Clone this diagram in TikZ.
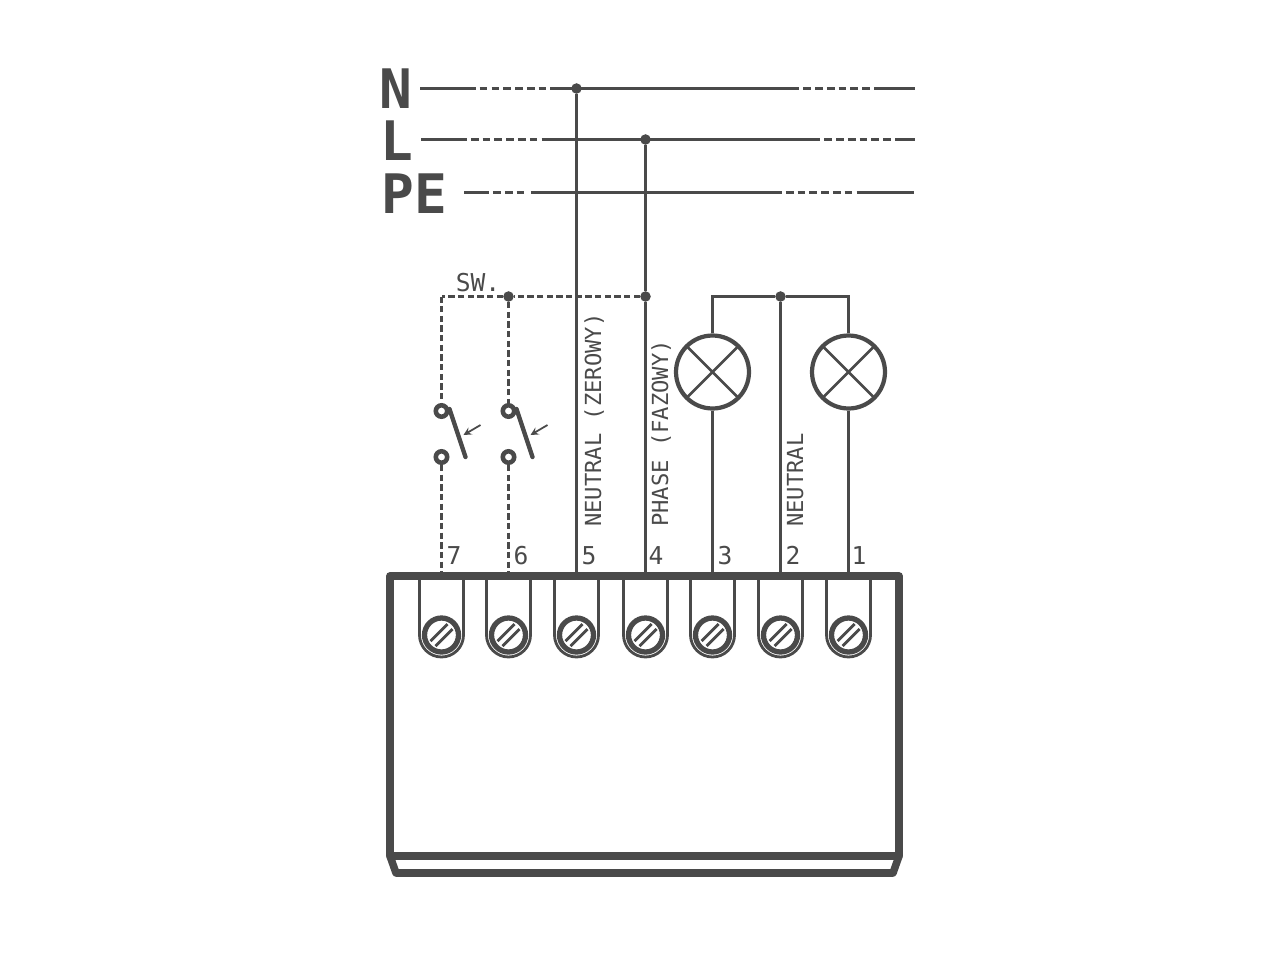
\documentclass[tikz,border=0pt]{standalone}
\usepackage{fontspec}
\setmonofont{DejaVu Sans Mono}
\usetikzlibrary{arrows}
\usetikzlibrary{calc}
\definecolor{ink}{HTML}{4A4A4A}
\tikzset{
	wire/.style={draw=ink, line width=1.8pt},
	swwire/.style={draw=ink, line width=1.8pt, dash pattern=on 3.6pt off 1.9pt},
	boxline/.style={draw=ink, line width=4.3pt, line join=round},
	mainsline/.style n args={3}{draw=ink, line width=1.8pt, dash pattern=on #1 off 2.3pt on 4.4pt off 2.3pt on 4.4pt off 2.3pt on 4.4pt off 2.3pt on 4.4pt off 2.3pt on 4.4pt off 2.3pt on 4.4pt off 2.3pt on #2 off 2.3pt on 4.4pt off 2.3pt on 4.4pt off 2.3pt on 4.4pt off 2.3pt on 4.4pt off 2.3pt on 4.4pt off 2.3pt on 4.4pt off 2.3pt on #3 off 20pt},
	peline/.style n args={3}{draw=ink, line width=1.8pt, dash pattern=on #1 off 2.3pt on 4.4pt off 2.3pt on 4.4pt off 2.3pt on 4.4pt off 3.7pt on #2 off 2.3pt on 4.4pt off 2.3pt on 4.4pt off 2.3pt on 4.4pt off 2.3pt on 4.4pt off 2.3pt on 4.4pt off 2.3pt on 4.4pt off 2.3pt on #3 off 20pt},
	dot/.style={circle, fill=ink, inner sep=0pt, minimum size=6pt},
	contact/.style={circle, draw=ink, fill=white, line width=2.6pt, inner sep=0pt, minimum size=6.5pt},
	lamp/.style={circle, draw=ink, line width=2.4pt, inner sep=0pt, minimum size=1.46cm,
		path picture={\draw[ink, line width=1.5pt] (path picture bounding box.north west) -- (path picture bounding box.south east) (path picture bounding box.south west) -- (path picture bounding box.north east);}},
	bigtext/.style={text=ink, font=\ttfamily\bfseries\fontsize{31}{31}\selectfont, inner sep=0pt},
	smalltext/.style={text=ink, font=\ttfamily\fontsize{12.6}{12.6}\selectfont, inner sep=0pt, text height=9.2pt, text depth=0pt},
	numtext/.style={smalltext, font=\ttfamily\fontsize{14}{14}\selectfont, text height=10.5pt},
	sidetext/.style={smalltext, rotate=90, anchor=west},
}
\begin{document}
\begin{tikzpicture}[x=0.02cm, y=-0.02cm]
	\useasboundingbox (0,0) rectangle (1280,960);

	% Coordinates of the mains lines
	\coordinate (nstart) at (420,88.5);
	\coordinate (nend) at (915,88.5);
	\coordinate (lstart) at (421,139.5);
	\coordinate (lend) at (915,139.5);
	\coordinate (pestart) at (464,192.5);
	\coordinate (peend) at (915,192.5);

	% Coordinates of the terminals on top of the box
	\foreach \name/\x in {t7/441.5, t6/508.5, t5/576.5, t4/645.5, t3/712.5, t2/780.5, t1/848.5}
		\coordinate (\name) at (\x,576);

	% Labels
	\node[bigtext] (nlabel) at (396,89) {N};
	\node[bigtext] (llabel) at (397,141) {L};
	\node[bigtext] (pelabel) at (414,194) {PE};
	\node[numtext] (swlabel) at (478,282) {SW.};
	\node[sidetext] (neutrallabel) at (593,527) {NEUTRAL (ZEROWY)};
	\node[sidetext] (phaselabel) at (660,527) {PHASE (FAZOWY)};
	\node[sidetext] (neutraltwo) at (795,527) {NEUTRAL};
	\foreach \name/\x/\label in {n7/454/7, n6/521/6, n5/589/5, n4/656/4, n3/725/3, n2/793/2, n1/859/1}
		\node[numtext] (\name) at (\x,555) {\label};

	% Mains lines
	\draw[mainsline={31.7pt}{141.7pt}{30pt}] (nstart) -- (nend);
	\draw[mainsline={26.1pt}{158.7pt}{30pt}] (lstart) -- (lend);
	\draw[peline={14.2pt}{142.9pt}{33pt}] (pestart) -- (peend);

	% Junctions
	\node[dot] (dn) at (576.5,88.5) {};
	\node[dot] (dl) at (645.5,139.5) {};
	\node[dot] (dph) at (645.5,296.5) {};
	\node[dot] (dsw) at (508.5,296.5) {};
	\node[dot] (dlamp) at (780.5,296.5) {};
	\coordinate (swcorner) at (441.5,296.5);

	% Feeds of terminals 5, 4, 2
	\draw[wire] (dn) -- (t5);
	\draw[wire] (dl) -- (dph) -- (t4);
	\draw[wire] (dlamp) -- (t2);

	% Lamps
	\node[lamp] (lampa) at (712.5,372) {};
	\node[lamp] (lampb) at (848.5,372) {};
	\draw[wire] (dlamp) -| (lampa);
	\draw[wire] (dlamp) -| (lampb);
	\draw[wire] (lampa) -- (t3);
	\draw[wire] (lampb) -- (t1);

	% Switches
	\draw[swwire] (dph) -- (dsw) -- (swcorner);
	\foreach \name/\term/\x/\top in {a/t7/441.5/swcorner, b/t6/508.5/dsw} {
		\node[contact] (up\name) at (\x,411) {};
		\node[contact] (lo\name) at (\x,457) {};
		\draw[swwire] (\top) -- (up\name);
		\draw[swwire] (lo\name) -- (\term);
		\coordinate (blu\name) at ($(up\name)+(8,-2)$);
		\coordinate (bll\name) at ($(up\name)+(24,46)$);
		\coordinate (ars\name) at ($(up\name)+(39,14)$);
		\coordinate (are\name) at ($(up\name)+(22,24)$);
		\draw[ink, line width=2.5pt, line cap=round] (blu\name) -- (bll\name);
		\draw[-stealth, ink, line width=1pt] (ars\name) -- (are\name);
	}

	% Screw terminals
	\foreach \term in {t1,t2,t3,t4,t5,t6,t7} {
		\coordinate (s\term) at ($(\term)+(0,59)$);
		\draw[ink, line width=1.6pt] ($(\term)+(-22,0)$) -- ($(s\term)+(-22,0)$) arc[start angle=180, end angle=0, radius=22] -- ($(\term)+(22,0)$);
		\draw[ink, line width=3pt, fill=white] (s\term) circle (17);
		\draw[ink, line width=1.6pt] ($(s\term)+(-11,6)$) -- ($(s\term)+(6,-11)$);
		\draw[ink, line width=1.6pt] ($(s\term)+(-6,11)$) -- ($(s\term)+(11,-6)$);
	}

	% Box
	\coordinate (boxnw) at (390,576);
	\coordinate (boxne) at (899,576);
	\coordinate (boxse) at (899,856);
	\coordinate (boxsw) at (390,856);
	\coordinate (basese) at (893,873);
	\coordinate (basesw) at (396,873);
	\draw[boxline] (boxnw) -- (boxne) -- (boxse) -- (boxsw) -- cycle;
	\draw[boxline] (boxsw) -- (basesw) -- (basese) -- (boxse);
\end{tikzpicture}
\end{document}
